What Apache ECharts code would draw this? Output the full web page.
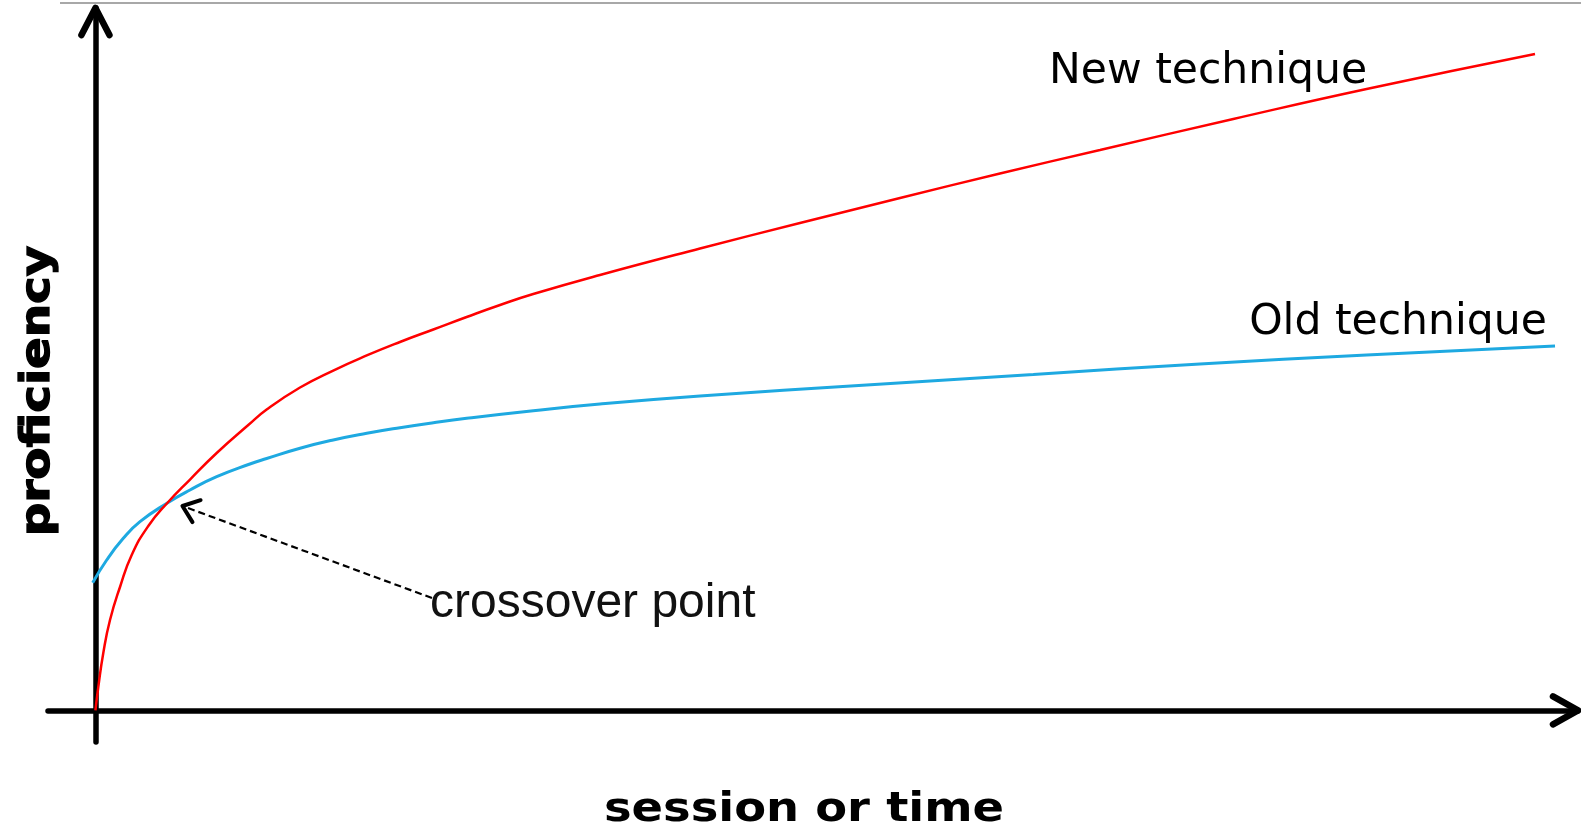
<!DOCTYPE html>
<html><head><meta charset="utf-8">
<script src="https://cdn.jsdelivr.net/npm/echarts@6/dist/echarts.min.js"></script>
<style>html,body{margin:0;padding:0;background:#fff;overflow:hidden}#c{width:1581px;height:826px}</style>
</head><body><div id="c"></div>
<script>
// ---- data (arbitrary units: session 0..100, proficiency 0..100) ----
const seriesNames = ['New technique', 'Old technique'];
const axisNames = ['session or time', 'proficiency'];
const annotationText = 'crossover point';

const newX = [0, 0.193, 0.53, 0.982, 1.657, 2.446, 3.565, 4.847, 6.378, 8.179, 10.31, 11.55, 13.8, 16.04, 18.3, 20.54, 22.79, 25.04, 27.29, 29.53, 34.03, 40.78, 47.52, 54.27, 61.01, 67.76, 76.75, 85.74, 97.1];
const newY = [0, 3.33, 8.17, 12.87, 17.57, 22.12, 26.25, 29.53, 32.87, 36.65, 40.63, 42.84, 45.97, 48.39, 50.53, 52.45, 54.23, 56.01, 57.72, 59.28, 61.99, 65.76, 69.39, 72.95, 76.44, 79.78, 84.2, 88.47, 93.45];

const oldX = [-0.185, 0.759, 1.879, 3.005, 4.847, 6.378, 8.179, 10.42, 11.55, 13.8, 16.04, 18.3, 20.54, 22.79, 25.04, 29.53, 34.03, 40.78, 52.02, 63.26, 74.5, 85.74, 98.45];
const oldY = [18.18, 21.41, 24.5, 26.87, 29.53, 31.38, 33.27, 35.08, 35.86, 37.32, 38.5, 39.45, 40.25, 40.96, 41.59, 42.67, 43.62, 44.76, 46.33, 47.82, 49.32, 50.6, 51.88];

const crossover = [4.847, 29.53];
const arrowTip = [5.87, 29.1];
const arrowTail = [22.7, 16.0];

const zip = (xs, ys) => xs.map((x, i) => [x, ys[i]]);

const chart = echarts.init(document.getElementById('c'), null, {renderer: 'canvas'});
const axisCommon = {
  type: 'value',
  axisLine: {show: true, onZero: true, lineStyle: {color: '#000', width: 5.5}},
  axisTick: {show: false},
  axisLabel: {show: false},
  splitLine: {show: false}
};
chart.setOption({
  animation: false,
  backgroundColor: '#fff',
  grid: {left: 48, right: 3, top: 8, bottom: 84},
  xAxis: Object.assign({}, axisCommon, {min: -3.2, max: 100}),
  yAxis: Object.assign({}, axisCommon, {min: -4.5, max: 100}),
  series: [
    {name: seriesNames[0], type: 'line', data: zip(newX, newY), showSymbol: false, smooth: 0.5,
     lineStyle: {color: '#ff0000', width: 2.5}, z: 5},
    {name: seriesNames[1], type: 'line', data: zip(oldX, oldY), showSymbol: false, smooth: 0.5,
     lineStyle: {color: '#1ea9e1', width: 3}, z: 4}
  ]
});

const P = (v) => chart.convertToPixel({gridIndex: 0}, v);
const o = P([0, 0]);
const xe = P([100, 0]);
const ye = P([0, 100]);
const tip = P(arrowTip);
const tail = P(arrowTail);
const dx = tip[0] - tail[0], dy = tip[1] - tail[1];
const L = Math.hypot(dx, dy);
const ux = dx / L, uy = dy / L;
const ang = 38 * Math.PI / 180, alen = 19;
function rot(x, y, a) { return [x * Math.cos(a) - y * Math.sin(a), x * Math.sin(a) + y * Math.cos(a)]; }
const b1 = rot(-ux, -uy, ang), b2 = rot(-ux, -uy, -ang);

const chev = {stroke: '#000', lineWidth: 6.5, fill: null, lineCap: 'round', lineJoin: 'round'};
function txt(x, y, text, font, align, extra, elExtra) {
  return Object.assign({type: 'text', x: x, y: y,
    style: Object.assign({text: text, font: font, fill: '#000', align: align, verticalAlign: 'middle'}, extra || {})}, elExtra || {});
}
chart.setOption({
  graphic: [
    {type: 'line', shape: {x1: 60, y1: 3, x2: 1581, y2: 3}, style: {stroke: '#a8a8a8', lineWidth: 2}, z: 100},
    {type: 'polyline', shape: {points: [[xe[0] - 25, o[1] - 14], [xe[0], o[1]], [xe[0] - 25, o[1] + 14]]}, style: chev, z: 100},
    {type: 'polyline', shape: {points: [[o[0] - 14, ye[1] + 27], [o[0], ye[1]], [o[0] + 14, ye[1] + 27]]}, style: chev, z: 100},
    {type: 'line', shape: {x1: tail[0], y1: tail[1], x2: tip[0] - ux * 2, y2: tip[1] - uy * 2},
     style: {stroke: '#000', lineWidth: 2.2, lineDash: [7, 4]}, z: 100},
    {type: 'polyline', shape: {points: [[tip[0] + b1[0] * alen, tip[1] + b1[1] * alen], [tip[0], tip[1]], [tip[0] + b2[0] * alen, tip[1] + b2[1] * alen]]},
     style: {stroke: '#000', lineWidth: 4, fill: null, lineCap: 'round', lineJoin: 'round'}, z: 100},
    txt(1208, 72, seriesNames[0], '42.5px "DejaVu Sans"', 'center'),
    txt(1398, 323, seriesNames[1], '42.5px "DejaVu Sans"', 'center'),
    txt(430, 604, annotationText, '48px "Liberation Sans"', 'left', {fill: '#111'}),
    txt(38.5, 391, axisNames[1], 'bold 40px "DejaVu Sans"', 'center', {stroke: '#000', lineWidth: 1.3}, {scaleX: 1.17, rotation: Math.PI / 2}),
    {type: 'text', x: 804, y: 791, scaleX: 1.16,
     style: {text: axisNames[0], font: 'bold 40px "DejaVu Sans"', fill: '#000', align: 'center', verticalAlign: 'top'}}
  ]
});
</script>
</body></html>
